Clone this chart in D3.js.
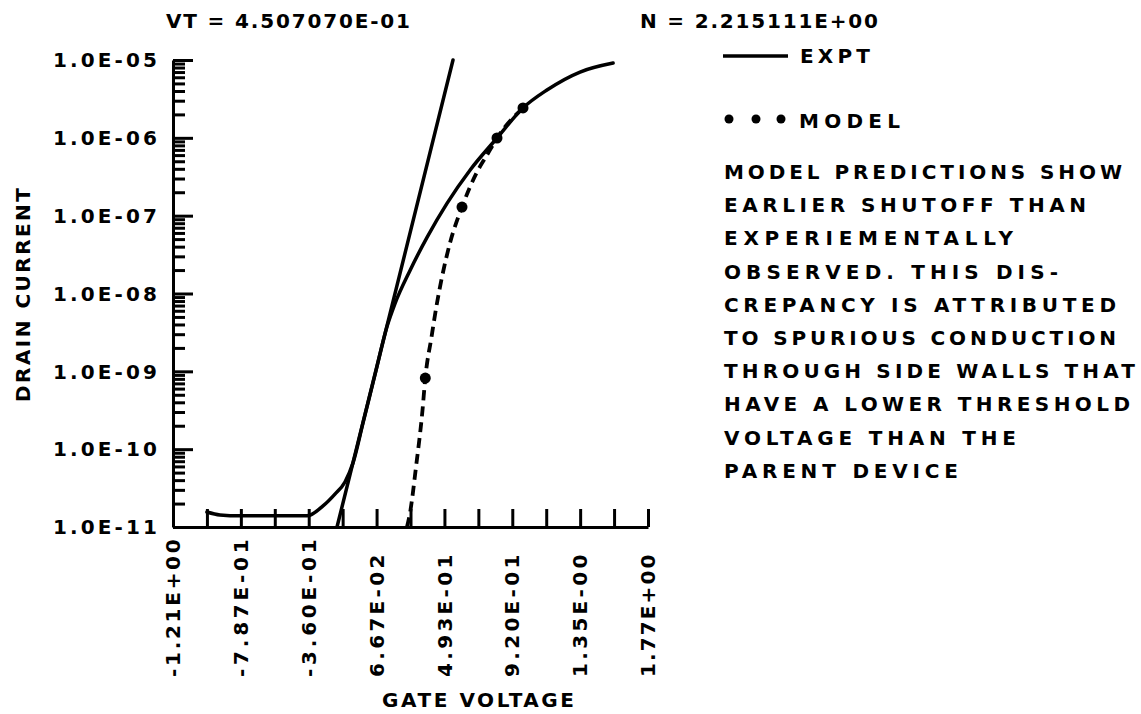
<!DOCTYPE html>
<html>
<head>
<meta charset="utf-8">
<script src="https://cdn.jsdelivr.net/npm/d3@7"></script>
<style>
  html, body { margin: 0; padding: 0; background: #fff; }
  svg text { font-family: "DejaVu Sans", sans-serif; font-weight: bold; fill: #000; }
</style>
</head>
<body>
<svg id="chart" width="1141" height="714"></svg>
<script>
// Gate-voltage tick marks and labelled positions
const xTickLabels = ["-1.21E+00", "-7.87E-01", "-3.60E-01", "6.67E-02", "4.93E-01", "9.20E-01", "1.35E-00", "1.77E+00"];
const xLabelValues = [-1.2133, -0.7867, -0.3600, 0.0667, 0.4933, 0.9200, 1.3467, 1.7733];
const xTickStep = 0.21333;

// Drain-current decades
const yTickValues = [1e-11, 1e-10, 1e-9, 1e-8, 1e-7, 1e-6, 1e-5];
const yTickLabels = ["1.0E-11", "1.0E-10", "1.0E-09", "1.0E-08", "1.0E-07", "1.0E-06", "1.0E-05"];

// Measured characteristic (EXPT)
const exptV = [-1.000, -0.918, -0.792, -0.572, -0.371, -0.270, -0.195, -0.132, -0.0815, -0.0186, 0.0568, 0.1323, 0.1825, 0.277, 0.384, 0.5095, 0.654, 0.824, 0.987, 1.138, 1.346, 1.554];
const exptI = [1.56e-11, 1.43e-11, 1.39e-11, 1.39e-11, 1.39e-11, 1.87e-11, 2.65e-11, 3.79e-11, 6.67e-11, 2.18e-10, 9.06e-10, 3.76e-9, 7.43e-9, 1.98e-8, 5.26e-8, 1.44e-7, 3.84e-7, 9.95e-7, 2.42e-6, 4.12e-6, 7.01e-6, 9.14e-6];

// Subthreshold straight-line fit
const fitV = [-0.1821, 0.5473];
const fitI = [1e-11, 1e-5];

// Model curve (dashed) and computed model points
const modelV = [0.258, 0.2768, 0.3146, 0.3555, 0.373, 0.4121, 0.4467, 0.4781, 0.5284, 0.6038, 0.6981, 0.7610, 0.8239, 0.9874];
const modelI = [1.0e-11, 1.51e-11, 5.90e-11, 3.18e-10, 8.20e-10, 2.76e-9, 7.55e-9, 1.63e-8, 4.46e-8, 1.29e-7, 3.64e-7, 6.01e-7, 9.95e-7, 2.42e-6];
const modelPointV = [0.373, 0.6038, 0.8239, 0.9874];
const modelPointI = [8.20e-10, 1.29e-7, 9.95e-7, 2.42e-6];

const noteLines = [
  "MODEL PREDICTIONS SHOW",
  "EARLIER SHUTOFF THAN",
  "EXPERIEMENTALLY",
  "OBSERVED.  THIS DIS-",
  "CREPANCY IS ATTRIBUTED",
  "TO SPURIOUS CONDUCTION",
  "THROUGH SIDE WALLS THAT",
  "HAVE A LOWER THRESHOLD",
  "VOLTAGE THAN THE",
  "PARENT DEVICE"
];
const noteWidths = [398, 362, 289, 334, 392, 392, 411, 406, 292, 234];

const svg = d3.select("#chart");
const x = d3.scaleLinear().domain([-1.2133, 1.7733]).range([173, 648]);
const y = d3.scaleLog().domain([1e-11, 1e-5]).range([527, 60]);

// stretch a text element to a given advance width
function fit(sel, len) {
  sel.attr("textLength", len).attr("lengthAdjust", "spacing");
}

const FS = 20;

// ---- axes ----
const xTicks = d3.range(15).map(i => -1.2133 + i * xTickStep);
svg.append("g").attr("transform", "translate(0,527)")
  .call(d3.axisBottom(x).tickValues(xTicks).tickSizeInner(-18).tickSizeOuter(0).tickFormat(""));

const minor = [];
for (let e = -11; e < -5; e++) for (let m = 2; m <= 9; m++) minor.push(m * Math.pow(10, e));
const gyMinor = svg.append("g").attr("transform", "translate(173,0)")
  .call(d3.axisLeft(y).tickValues(minor).tickSizeInner(-12).tickSizeOuter(0).tickFormat(""));
gyMinor.select(".domain").remove();
svg.append("g").attr("transform", "translate(173,0)")
  .call(d3.axisLeft(y).tickValues(yTickValues).tickSizeInner(-20).tickSizeOuter(0).tickFormat(""));

svg.selectAll(".domain, .tick line")
  .attr("stroke", "#000").attr("stroke-width", 3);

// y tick labels
svg.append("g").selectAll("text").data(yTickValues).join("text")
  .attr("x", 53).attr("y", d => y(d)).attr("dy", "0.36em")
  .style("font-size", FS + "px")
  .text((d, i) => yTickLabels[i])
  .call(fit, 104);

// x tick labels, rotated
svg.append("g").selectAll("text").data(xLabelValues).join("text")
  .attr("transform", d => `translate(${x(d)},677) rotate(-90)`)
  .attr("dy", "0.36em")
  .style("font-size", FS + "px")
  .text((d, i) => xTickLabels[i])
  .each(function (d, i) { d3.select(this).call(fit, xTickLabels[i].length * 15.3); });

// axis titles
svg.append("text").attr("x", 382).attr("y", 707)
  .style("font-size", FS + "px").text("GATE VOLTAGE").call(fit, 192);
svg.append("text").attr("transform", "translate(30,402) rotate(-90)")
  .style("font-size", FS + "px").text("DRAIN CURRENT").call(fit, 214);

// header values
svg.append("text").attr("x", 166).attr("y", 28)
  .style("font-size", FS + "px").text("VT = 4.507070E-01").call(fit, 244);
svg.append("text").attr("x", 640).attr("y", 28)
  .style("font-size", FS + "px").text("N = 2.215111E+00").call(fit, 238);

// ---- curves ----
const line = d3.line().x(d => x(d[0])).y(d => y(d[1])).curve(d3.curveMonotoneX);
const plot = svg.append("g").attr("fill", "none").attr("stroke", "#000")
  .attr("stroke-linecap", "round").attr("stroke-linejoin", "round");

plot.append("path").datum(exptV.map((v, i) => [v, exptI[i]]))
  .attr("d", line).attr("stroke-width", 3.5);
plot.append("path").datum(fitV.map((v, i) => [v, fitI[i]]))
  .attr("d", d3.line().x(d => x(d[0])).y(d => y(d[1]))).attr("stroke-width", 3.5);
plot.append("path").datum(modelV.map((v, i) => [v, modelI[i]]))
  .attr("d", line).attr("stroke-width", 3.8)
  .attr("stroke-linecap", "butt").attr("stroke-dasharray", "10,6");

svg.append("g").selectAll("circle").data(modelPointV).join("circle")
  .attr("cx", d => x(d)).attr("cy", (d, i) => y(modelPointI[i])).attr("r", 5.5).attr("fill", "#000");

// ---- legend ----
svg.append("line").attr("x1", 723).attr("x2", 788).attr("y1", 56).attr("y2", 56)
  .attr("stroke", "#000").attr("stroke-width", 3.5);
svg.append("text").attr("x", 800).attr("y", 63).style("font-size", FS + "px").text("EXPT").call(fit, 70);
svg.append("g").selectAll("circle").data([729, 756, 781]).join("circle")
  .attr("cx", d => d).attr("cy", 119).attr("r", 4.5).attr("fill", "#000");
svg.append("text").attr("x", 799).attr("y", 128).style("font-size", FS + "px").text("MODEL").call(fit, 101);

// explanatory note
svg.append("g").selectAll("text").data(noteLines).join("text")
  .attr("x", 724).attr("y", (d, i) => 179 + i * 33.2)
  .style("font-size", FS + "px")
  .text(d => d)
  .each(function (d, i) { d3.select(this).call(fit, noteWidths[i]); });
</script>
</body>
</html>
